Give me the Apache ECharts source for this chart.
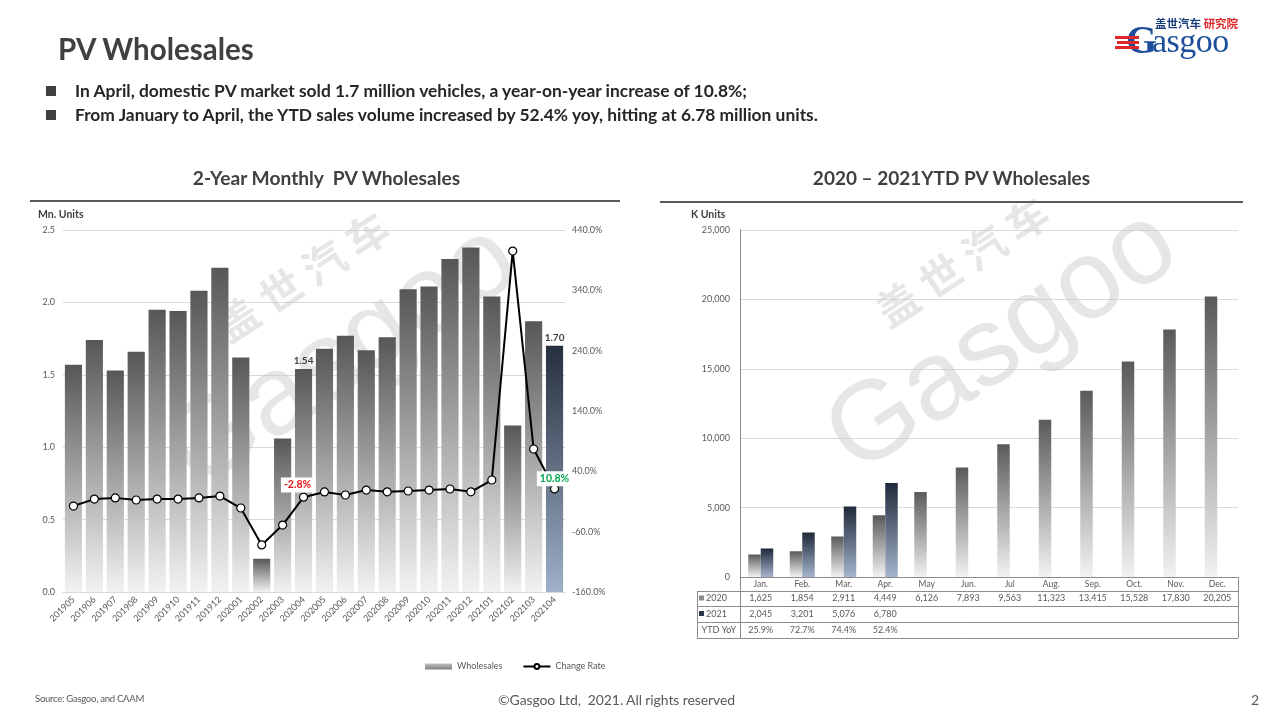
<!DOCTYPE html>
<html><head><meta charset="utf-8">
<script src="https://cdn.jsdelivr.net/npm/echarts@6/dist/echarts.min.js"></script>
<style>
html,body{margin:0;padding:0;background:#fff;}
#wrap{position:relative;width:1280px;height:720px;overflow:hidden;font-family:Lato,"Open Sans",sans-serif;}
#chart{position:absolute;left:0;top:0;width:1280px;height:720px;}
.t{position:absolute;white-space:nowrap;color:#404040;}
</style></head>
<body><div id="wrap"><div id="chart"></div>
<div class="t" style="left:58px;top:31px;font-size:29.5px;font-weight:bold;color:#404040;">PV Wholesales</div>
<div class="t" style="left:46px;top:80px;font-size:17.4px;font-weight:bold;color:#262626;"><span style="display:inline-block;width:10px;height:10px;background:#404040;margin-right:19px;vertical-align:1px;"></span>In April, domestic PV market sold 1.7 million vehicles, a year-on-year increase of 10.8%;</div>
<div class="t" style="left:46px;top:104px;font-size:17.4px;font-weight:bold;color:#262626;"><span style="display:inline-block;width:10px;height:10px;background:#404040;margin-right:19px;vertical-align:1px;"></span>From January to April, the YTD sales volume increased by 52.4% yoy, hitting at 6.78 million units.</div>
<div class="t" style="left:30px;width:593px;text-align:center;top:166px;font-size:19.2px;font-weight:bold;color:#404040;">2-Year Monthly&nbsp; PV Wholesales</div>
<div class="t" style="left:660px;width:583px;text-align:center;top:166px;font-size:19px;font-weight:bold;color:#404040;">2020 – 2021YTD PV Wholesales</div>
<div style="position:absolute;left:30px;top:200px;width:590px;height:2px;background:#595959;"></div>
<div style="position:absolute;left:660px;top:201px;width:583px;height:2px;background:#595959;"></div>
<div class="t" style="left:38px;top:208px;font-size:10.5px;font-weight:bold;color:#404040;">Mn. Units</div>
<div class="t" style="left:691px;top:208px;font-size:10.5px;font-weight:bold;color:#404040;">K Units</div>
<div class="t" style="left:35px;top:693px;font-size:9.6px;color:#595959;letter-spacing:-0.3px;">Source: Gasgoo, and CAAM</div>
<div class="t" style="left:498px;top:691px;font-size:14px;color:#595959;letter-spacing:-0.1px;">©Gasgoo Ltd,&nbsp; 2021. All rights reserved</div>
<div class="t" style="left:1251px;top:691px;font-size:14px;color:#595959;">2</div>
<div class="t" style="left:1155px;top:15px;font-size:11.5px;font-weight:bold;color:#1c3f7a;font-family:'Noto Sans CJK SC';">盖世汽车 <span style="color:#e0272b;">研究院</span></div>
<div class="t" style="left:1126px;top:16px;font-size:40px;color:#1c4e9a;font-family:'Liberation Serif',serif;font-weight:bold;">G</div>
<div class="t" style="left:1152px;top:22px;font-size:34px;color:#1c4e9a;font-family:'Liberation Serif',serif;letter-spacing:-0.5px;">asgoo</div>
<div style="position:absolute;left:1115px;top:36px;width:24px;height:3px;background:#e0272b;"></div>
<div style="position:absolute;left:1117px;top:41px;width:22px;height:3px;background:#e0272b;"></div>
<div style="position:absolute;left:1115px;top:46px;width:24px;height:3px;background:#e0272b;"></div>
</div>
<script>
// ---- data ----
const months = ['201905','201906','201907','201908','201909','201910','201911','201912','202001','202002','202003','202004','202005','202006','202007','202008','202009','202010','202011','202012','202101','202102','202103','202104'];
const wholesales = [1.57,1.74,1.53,1.66,1.95,1.94,2.08,2.24,1.62,0.23,1.06,1.54,1.68,1.77,1.67,1.76,2.09,2.11,2.30,2.38,2.04,1.15,1.87,1.70];
const changeRate = [-17.5,-6.0,-4.0,-7.5,-6.0,-6.0,-4.0,-1.0,-20.8,-82.0,-49.0,-2.8,5.8,0.8,9.0,6.0,7.4,9.0,10.7,6.0,25.6,405.0,77.0,10.8];
const ytdMonths = ['Jan.','Feb.','Mar.','Apr.','May','Jun.','Jul','Aug.','Sep.','Oct.','Nov.','Dec.'];
const ytd2020 = [1625,1854,2911,4449,6126,7893,9563,11323,13415,15528,17830,20205];
const ytd2021 = [2045,3201,5076,6780];
const ytdYoY = [25.9,72.7,74.4,52.4];
const leftTicks = [0,0.5,1.0,1.5,2.0,2.5];
const rightTicks = [-160,-60,40,140,240,340,440];
const ytdTicks = [0,5000,10000,15000,20000,25000];

const chart = echarts.init(document.getElementById('chart'), null, {renderer:'canvas'});
const grayGrad = new echarts.graphic.LinearGradient(0,0,0,1,[{offset:0,color:'#575757'},{offset:1,color:'#f2f2f2'}]);
const navyGrad = new echarts.graphic.LinearGradient(0,0,0,1,[{offset:0,color:'#262f3e'},{offset:1,color:'#9fb0c9'}]);
const gray2020 = new echarts.graphic.LinearGradient(0,0,0,1,[{offset:0,color:'#5a5a5a'},{offset:1,color:'#f2f2f2'}]);
const navy2021 = new echarts.graphic.LinearGradient(0,0,0,1,[{offset:0,color:'#1f2939'},{offset:1,color:'#a5b5cd'}]);
const lbl = {color:'#595959',fontSize:9,fontFamily:'Lato'};
const last = wholesales.length-1;
const labelIdx = [11, last];

const barData = wholesales.map((v,i)=>{
  const o = {value:v};
  if(i===last) o.itemStyle = {color:navyGrad};
  if(labelIdx.includes(i)) o.label = {show:true,position:'top',distance:3,formatter:p=>p.value.toFixed(2),color:'#404040',fontWeight:'bold',fontSize:10,fontFamily:'Lato'};
  return o;
});
const lineData = changeRate.map((v,i)=>{
  const o = {value:v};
  if(i===11) o.label = {show:true,position:'top',offset:[-6,5],formatter:p=>p.value.toFixed(1)+'%',color:'#e8151b',fontWeight:'bold',fontSize:10.5,fontFamily:'Lato',backgroundColor:'#fff',padding:[2,3]};
  if(i===last) o.label = {show:true,position:'top',offset:[0,7],formatter:p=>p.value.toFixed(1)+'%',color:'#00a651',fontWeight:'bold',fontSize:10.5,fontFamily:'Lato',backgroundColor:'#fff',padding:[2,3]};
  return o;
});

const option = {
  animation:false,
  grid:[
    {left:63,right:1280-565,top:230,bottom:720-592},
    {left:740,right:1280-1238,top:230,bottom:720-577}
  ],
  legend:{left:420,top:657,itemGap:20,itemWidth:27,itemHeight:6,textStyle:{color:'#595959',fontSize:9,fontFamily:'Lato'},
    data:[{name:'Wholesales',icon:'rect',itemStyle:{color:new echarts.graphic.LinearGradient(0,0,0,1,[{offset:0,color:'#bfbfbf'},{offset:1,color:'#808080'}])}},{name:'Change Rate'}]},
  xAxis:[
    {type:'category',gridIndex:0,data:months,axisTick:{show:false},axisLine:{lineStyle:{color:'#d9d9d9'}},
      axisLabel:Object.assign({rotate:45,margin:6,interval:0},lbl)},
    {type:'category',gridIndex:1,data:ytdMonths,axisTick:{show:false},axisLine:{lineStyle:{color:'#8c8c8c'}},
      axisLabel:Object.assign({margin:3,interval:0},lbl,{fontSize:8.5})}
  ],
  yAxis:[
    {type:'value',gridIndex:0,min:0,max:2.5,interval:0.5,axisLine:{show:false},axisTick:{show:false},
      splitLine:{lineStyle:{color:'#d9d9d9'}},axisLabel:Object.assign({margin:8,formatter:v=>v.toFixed(1)},lbl)},
    {type:'value',gridIndex:0,position:'right',min:-160,max:440,axisLine:{show:false},axisTick:{show:false},
      splitLine:{show:false},axisLabel:Object.assign({margin:7,customValues:rightTicks,formatter:v=>v.toFixed(1)+'%'},lbl)},
    {type:'value',gridIndex:1,min:0,max:25000,interval:5000,axisLine:{show:true,lineStyle:{color:'#8c8c8c'}},axisTick:{show:false},
      splitLine:{lineStyle:{color:'#d9d9d9'}},axisLabel:Object.assign({margin:10,formatter:v=>v.toLocaleString('en-US')},lbl)}
  ],
  series:[
    {name:'Wholesales',type:'bar',xAxisIndex:0,yAxisIndex:0,data:barData,barCategoryGap:'18%',itemStyle:{color:grayGrad},z:2},
    {name:'Change Rate',type:'line',xAxisIndex:0,yAxisIndex:1,data:lineData,symbol:'circle',symbolSize:8,
      lineStyle:{color:'#000',width:2},itemStyle:{color:'#fff',borderColor:'#000',borderWidth:1.2},z:5},
    {name:'2020',type:'bar',xAxisIndex:1,yAxisIndex:2,data:ytd2020,barWidth:12.5,barGap:'0%',itemStyle:{color:gray2020}},
    {name:'2021',type:'bar',xAxisIndex:1,yAxisIndex:2,data:ytd2021,barWidth:12.5,barGap:'0%',itemStyle:{color:navy2021}}
  ]
};
chart.setOption(option);

// ---- table under right chart + watermarks ----
const g = [];
const lc = '#8c8c8c';
const L = (x1,y1,x2,y2)=>({type:'line',shape:{x1,y1,x2,y2},style:{stroke:lc,lineWidth:1},z:10,silent:true});
const rows = [591,606,622,638];
rows.forEach(y=>g.push(L(697,y+0.5,1238,y+0.5)));
g.push(L(697.5,591,697.5,638));
g.push(L(740.5,577,740.5,638));
g.push(L(1238.5,577,1238.5,638));
const rowMid = [598.5,614,630];
const tstyle = (text,x,y,align)=>({type:'text',x,y,z:10,silent:true,style:{text,fill:'#595959',font:'9px Lato',align:align||'center',verticalAlign:'middle'}});
ytdMonths.forEach((m,i)=>{
  const x = chart.convertToPixel({xAxisIndex:1},m);
  g.push(tstyle(ytd2020[i].toLocaleString('en-US'),x,rowMid[0]));
  if(i<ytd2021.length) g.push(tstyle(ytd2021[i].toLocaleString('en-US'),x,rowMid[1]));
  if(i<ytdYoY.length) g.push(tstyle(ytdYoY[i].toFixed(1)+'%',x,rowMid[2]));
});
g.push({type:'rect',shape:{x:699,y:rowMid[0]-3,width:5,height:5},style:{fill:'#8c8c8c'},z:10});
g.push({type:'rect',shape:{x:699,y:rowMid[1]-3,width:5,height:5},style:{fill:'#2b3547'},z:10});
g.push(tstyle('2020',706,rowMid[0],'left'));
g.push(tstyle('2021',706,rowMid[1],'left'));
g.push(tstyle('YTD YoY',736,rowMid[2],'right'));

function watermark(cx,cy){
  return {type:'group',x:cx,y:cy,rotation:0.58,z:20,silent:true,children:[
    {type:'text',x:10,y:-75,style:{text:'盖 世 汽 车',font:'bold 42px "Noto Sans CJK SC"',fill:'rgba(200,200,200,0.45)',align:'center',verticalAlign:'middle'}},
    {type:'text',x:0,y:15,style:{text:'Gasgoo',font:'112px "Liberation Sans"',fill:'rgba(200,200,200,0.45)',align:'center',verticalAlign:'middle'}}
  ]};
}
g.push(watermark(335,345));
g.push(watermark(995,330));
chart.setOption({graphic:g});
</script></body></html>
